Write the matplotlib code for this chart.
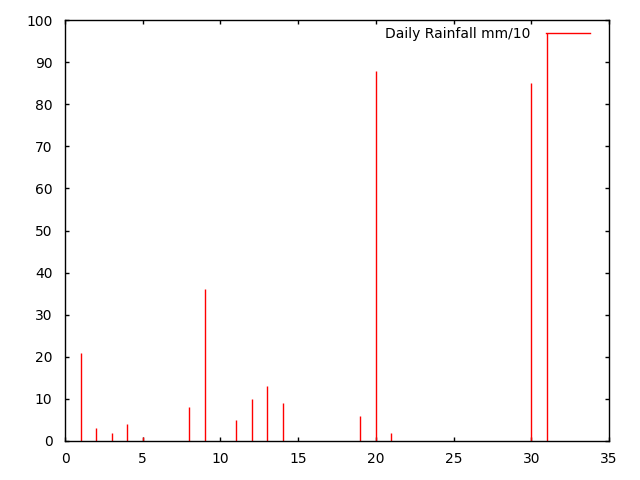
import matplotlib
matplotlib.use("Agg")
import matplotlib.pyplot as plt
from matplotlib.lines import Line2D

plt.rcParams['font.family'] = ['DejaVu Sans']

days = [1, 2, 3, 4, 5, 8, 9, 11, 12, 13, 14, 19, 20, 21, 30, 31]
rain = [21, 3, 2, 4, 1, 8, 36, 5, 10, 13, 9, 6, 88, 2, 85, 97]

fig = plt.figure(figsize=(6.4, 4.8), dpi=100)
ax = fig.add_axes([65 / 640, 1 - 441 / 480, (609 - 65) / 640, (441 - 20) / 480])

ax.vlines(days, 0, rain, colors='red', linewidth=1)

ax.set_xlim(0, 35)
ax.set_ylim(0, 100)
ax.set_xticks(range(0, 36, 5))
ax.set_yticks(range(0, 101, 10))
ax.tick_params(direction='in', top=True, right=True, labelsize=10, length=3, width=1)
ax.tick_params(axis='y', pad=9)
ax.tick_params(axis='x', pad=8)
for s in ax.spines.values():
    s.set_linewidth(1)

handle = Line2D([], [], color='red', linewidth=1)
ax.legend([handle], ['Daily Rainfall mm/10'], loc='upper right', frameon=False,
          markerfirst=False, fontsize=10, handlelength=3.2, handletextpad=1.1,
          bbox_to_anchor=(590 / 640, 1 - 27 / 480), bbox_transform=fig.transFigure,
          borderaxespad=0, borderpad=0)

fig.savefig('out.png', dpi=100)
